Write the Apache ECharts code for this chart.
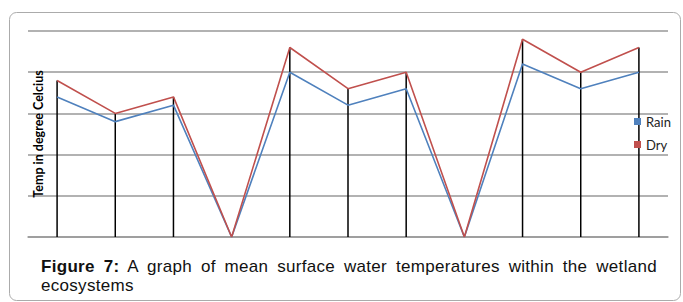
<!DOCTYPE html>
<html>
<head>
<meta charset="utf-8">
<script src="https://cdn.jsdelivr.net/npm/echarts@6/dist/echarts.min.js"></script>
<style>
  html, body { margin: 0; padding: 0; background: #fff; }
  #wrap { position: relative; width: 683px; height: 302px; overflow: hidden; }
  #chart { width: 683px; height: 302px; }
  #caption {
    position: absolute; left: 41px; top: 257px; width: 616px;
    font: 17px/19px 'Liberation Sans', Arial, sans-serif; color: #111;
    letter-spacing: 0.3px;
  }
  #caption .l1 { text-align: justify; text-align-last: justify; white-space: nowrap; }
  #caption b { font-weight: bold; }
</style>
</head>
<body>
<div id="wrap">
  <div id="chart"></div>
  <div id="caption"><div class="l1"></div><div class="l2"></div></div>
</div>
<script>
/* mean surface water temperature, rain vs dry season */
var sites = ['1', '2', '3', '4', '5', '6', '7', '8', '9', '10', '11'];
var rain = [17, 14, 16, 0, 20, 16, 18, 0, 21, 18, 20];
var dry = [19, 15, 17, 0, 23, 18, 20, 0, 24, 20, 23];
var yTitle = 'Temp in degree Celcius';
var captionBold = 'Figure 7:';
var captionLine1 = ' A graph of mean surface water temperatures within the wetland';
var captionLine2 = 'ecosystems';

(function () {
  var blue = '#4f81bd', red = '#c0504d', grid = '#999';
  var l1 = document.querySelector('#caption .l1');
  var b = document.createElement('b');
  b.textContent = captionBold;
  l1.appendChild(b);
  l1.appendChild(document.createTextNode(captionLine1));
  document.querySelector('#caption .l2').textContent = captionLine2;
  l1.style.whiteSpace = 'normal';

  var c = echarts.init(document.getElementById('chart'), null, { renderer: 'svg' });
  c.setOption({
    animation: false,
    grid: { left: 28, right: 15, top: 31, bottom: 65 },
    legend: {
      data: [
        { name: 'Rain', itemStyle: { color: blue } },
        { name: 'Dry', itemStyle: { color: red } }
      ],
      orient: 'vertical', left: 634, top: 115,
      icon: 'rect', itemWidth: 7, itemHeight: 7, itemGap: 10, padding: 0,
      textStyle: { fontFamily: 'Lato', fontSize: 13, color: '#222' }
    },
    xAxis: {
      type: 'category', data: sites, boundaryGap: true,
      axisLine: { lineStyle: { color: grid, width: 1.5 } },
      axisTick: { show: false }, axisLabel: { show: false }
    },
    yAxis: {
      type: 'value', min: 0, max: 25, interval: 5,
      name: yTitle, nameLocation: 'middle', nameGap: -17, nameRotate: 90,
      nameTextStyle: { fontFamily: 'Lato', fontWeight: 'bold', fontSize: 12.5, color: '#000' },
      axisLine: { show: false }, axisTick: { show: false }, axisLabel: { show: false },
      splitLine: { lineStyle: { color: grid, width: 1.5 } }
    },
    series: [
      { name: 'drop', type: 'bar', data: dry, barWidth: 1.5, silent: true,
        itemStyle: { color: '#000' }, z: 1 },
      { name: 'Rain', type: 'line', data: rain, symbol: 'none',
        lineStyle: { color: blue, width: 1.6 }, itemStyle: { color: blue }, z: 3 },
      { name: 'Dry', type: 'line', data: dry, symbol: 'none',
        lineStyle: { color: red, width: 1.6 }, itemStyle: { color: red }, z: 4 }
    ],
    graphic: [
      { type: 'rect', silent: true, z: -1,
        shape: { x: 9.5, y: 12.5, width: 671, height: 288, r: 7 },
        style: { fill: 'none', stroke: '#ababab', lineWidth: 1 } }
    ]
  });
})();
</script>
</body>
</html>
